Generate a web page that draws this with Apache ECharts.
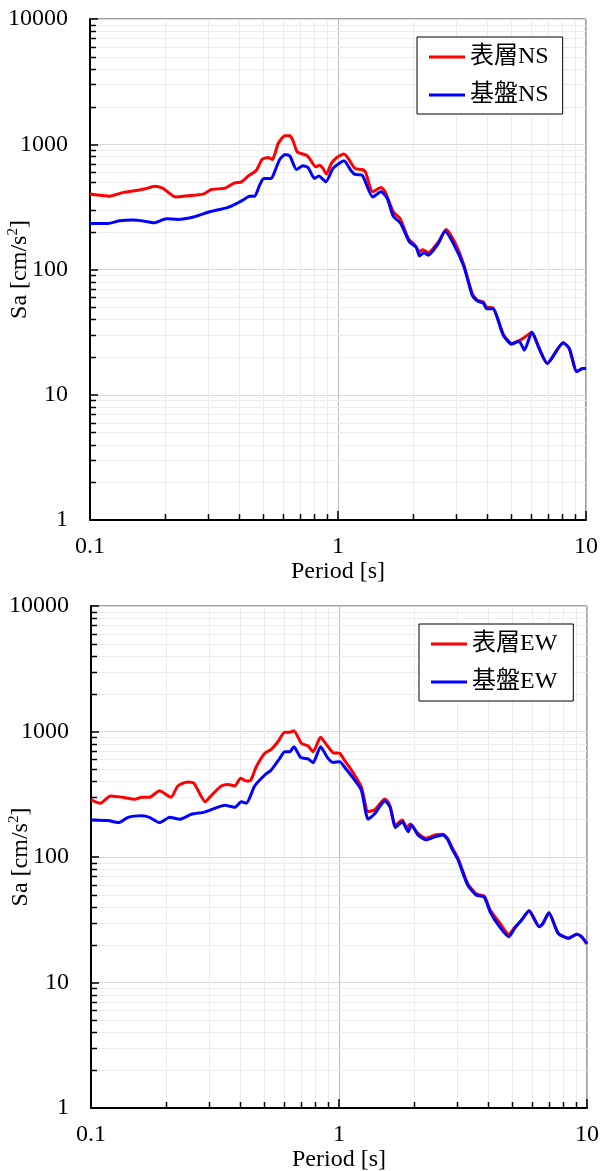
<!DOCTYPE html>
<html>
<head>
<meta charset="utf-8">
<script src="https://cdn.jsdelivr.net/npm/echarts@6/dist/echarts.min.js"></script>
<style>
html,body{margin:0;padding:0;background:#fff;}
#chart{width:601px;height:1171px;}
</style>
</head>
<body>
<div id="chart"></div>
<script>
// ---- Data (period [s], Sa [cm/s^2]) ----
const nsSurfaceT  = [0.100,0.110,0.120,0.134,0.151,0.169,0.182,0.197,0.221,0.248,0.286,0.309,0.350,0.383,0.408,0.434,0.469,0.494,0.523,0.544,0.574,0.611,0.640,0.659,0.685,0.745,0.768,0.813,0.843,0.870,0.898,0.940,0.990,1.057,1.100,1.170,1.250,1.290,1.380,1.490,1.550,1.670,1.780,1.920,2.040,2.130,2.200,2.310,2.540,2.730,2.970,3.220,3.480,3.650,3.850,3.980,4.210,4.640,5.010,5.370,5.640,6.050,6.470,6.980,8.090,8.560,9.180,9.690,10.00];
const nsSurfaceSa = [400,392,385,409,425,444,463,444,380,388,400,435,446,492,501,556,621,756,785,756,1015,1167,1167,1065,869,818,770,660,681,641,577,703,785,834,770,641,629,602,417,452,417,289,256,177,157,139,144,136,166,209,162,108,64,57,55,49.8,49.5,30.5,25.7,27.0,28.7,31.5,23.5,17.8,26.0,23.5,15.3,16.2,16.2];

const nsBaseT  = [0.100,0.118,0.132,0.149,0.166,0.181,0.203,0.226,0.264,0.304,0.360,0.395,0.414,0.440,0.461,0.483,0.502,0.538,0.555,0.582,0.613,0.640,0.680,0.722,0.757,0.804,0.838,0.893,0.954,1.010,1.057,1.130,1.170,1.250,1.380,1.490,1.580,1.670,1.790,1.940,2.070,2.130,2.220,2.310,2.540,2.700,2.940,3.220,3.480,3.650,3.850,3.980,4.210,4.640,5.010,5.370,5.640,6.050,6.470,6.980,8.090,8.560,9.180,9.690,10.00];
const nsBaseSa = [233,233,245,248,243,236,254,251,264,289,313,341,358,385,385,472,533,533,602,756,829,804,629,672,653,533,559,501,641,703,738,614,574,567,380,417,369,267,233,166,150,128,136,130,162,202,157,105,62,56,54,48.5,48.5,29.8,25.3,26.8,22.7,31.5,23.5,17.8,26.0,23.5,15.3,16.2,16.2];

const ewSurfaceT  = [0.100,0.109,0.120,0.137,0.150,0.160,0.172,0.189,0.210,0.224,0.245,0.260,0.289,0.307,0.335,0.357,0.380,0.401,0.423,0.441,0.464,0.502,0.533,0.567,0.604,0.633,0.658,0.705,0.751,0.786,0.843,0.883,0.946,1.007,1.050,1.110,1.230,1.310,1.390,1.530,1.590,1.690,1.800,1.870,1.940,2.080,2.240,2.440,2.620,2.740,2.870,3.020,3.300,3.580,3.850,4.070,4.460,4.840,5.110,5.450,5.840,6.420,6.650,7.020,7.650,8.420,9.090,9.540,10.00];
const ewSurfaceSa = [285,268,306,297,288,299,299,337,299,368,396,387,276,312,368,379,368,424,403,410,524,670,721,829,986,986,1015,805,766,690,899,805,678,670,593,509,363,230,237,290,268,180,197,172,183,154,141,150,152,141,117,97.7,61.7,50.7,48.9,37.8,29.6,24.2,27.5,31.5,37.3,27.8,29.6,36.0,24.7,22.5,24.2,23.0,20.3];

const ewBaseT  = [0.100,0.117,0.129,0.141,0.160,0.172,0.189,0.208,0.228,0.254,0.287,0.315,0.346,0.380,0.404,0.423,0.457,0.502,0.533,0.577,0.604,0.633,0.658,0.700,0.751,0.786,0.843,0.897,0.946,1.007,1.050,1.130,1.230,1.310,1.390,1.530,1.610,1.690,1.800,1.900,1.960,2.080,2.240,2.440,2.620,2.740,2.870,3.020,3.300,3.580,3.850,4.070,4.460,4.840,5.110,5.450,5.840,6.420,6.650,7.020,7.650,8.420,9.090,9.540,10.00];
const ewBaseSa = [197,195,188,207,213,207,188,207,200,219,228,244,259,249,276,268,368,450,493,611,690,690,757,622,604,564,757,622,567,574,524,436,342,200,220,279,249,172,191,159,180,150,137,145,150,138,114,95,60,49.5,48,36.5,27.5,23.2,27.0,31.5,37.3,27.8,29.6,36.0,24.7,22.5,24.2,23.0,20.3];

const seriesNames = ['表層NS','基盤NS','表層EW','基盤EW'];
const xTickLabels = ['0.1','1','10'];
const yTickLabels = ['1','10','100','1000','10000'];
const xMinor = [0.2,0.3,0.4,0.5,0.6,0.7,0.8,0.9,2,3,4,5,6,7,8,9];
const yMinor = [2,3,4,5,6,7,8,9,20,30,40,50,60,70,80,90,200,300,400,500,600,700,800,900,2000,3000,4000,5000,6000,7000,8000,9000];

// ---- helpers ----
const SERIF = '"Liberation Serif", "Times New Roman", serif';
const CJK = '"Liberation Serif", "Noto Sans CJK JP", serif';
function pairs(t, s){ return t.map((v,i)=>[v, s[i]]); }
function decadeLabel(list, base){
  return function(v){ const k = Math.round(Math.log10(v)) - base; return list[k] !== undefined ? list[k] : ''; };
}

function xAxisDef(gi){
  return {
    type:'log', logBase:10, gridIndex:gi, min:0.1, max:10,
    name:'Period [s]', nameLocation:'middle', nameGap:40,
    nameTextStyle:{fontFamily:SERIF, fontSize:24, color:'#000'},
    axisLine:{show:true, onZero:false, lineStyle:{color:'#000', width:2}},
    axisTick:{show:true, inside:true, length:9, lineStyle:{color:'#000', width:1.5}},
    axisLabel:{fontFamily:SERIF, fontSize:24, color:'#000', margin:15, formatter:decadeLabel(xTickLabels,-1)},
    splitLine:{show:true, lineStyle:{color:'#bdbdbd', width:1}},
    minorTick:{show:false}
  };
}
function yAxisDef(gi){
  return {
    type:'log', logBase:10, gridIndex:gi, min:1, max:10000,
    name:'{a|Sa [cm/s}{b|2}{a|]}', nameLocation:'middle', nameGap:58, nameRotate:90,
    nameMoveOverlap:false,
    nameTextStyle:{color:'#000', rich:{
      a:{fontFamily:SERIF, fontSize:24, color:'#000', lineHeight:26, verticalAlign:'bottom'},
      b:{fontFamily:SERIF, fontSize:15, color:'#000', lineHeight:26, verticalAlign:'top'}
    }},
    axisLine:{show:true, onZero:false, lineStyle:{color:'#000', width:2}},
    axisTick:{show:true, inside:true, length:8, lineStyle:{color:'#000', width:1.5}},
    axisLabel:{fontFamily:SERIF, fontSize:24, color:'#000', margin:22, formatter:decadeLabel(yTickLabels,0)},
    splitLine:{show:true, lineStyle:{color:'#d9d9d9', width:1}}
  };
}
function minorX(gi){
  return {
    type:'custom', xAxisIndex:gi, yAxisIndex:gi, silent:true, z:1,
    data: xMinor.map(v=>[v,1]),
    renderItem:function(params, api){
      const v = api.value(0);
      const a = api.coord([v,1]), b = api.coord([v,10000]);
      const x = Math.round(a[0]) + 0.5;
      return {type:'group', children:[
        {type:'line', shape:{x1:x,y1:a[1],x2:x,y2:b[1]}, style:{stroke:'#ececec', lineWidth:1}},
        {type:'line', shape:{x1:x,y1:a[1],x2:x,y2:a[1]-6}, style:{stroke:'#000', lineWidth:1.5}}
      ]};
    }
  };
}
function minorY(gi){
  return {
    type:'custom', xAxisIndex:gi, yAxisIndex:gi, silent:true, z:1,
    data: yMinor.map(v=>[0.1,v]),
    renderItem:function(params, api){
      const v = api.value(1);
      const a = api.coord([0.1,v]), b = api.coord([10,v]);
      const y = Math.round(a[1]) + 0.5;
      return {type:'group', children:[
        {type:'line', shape:{x1:a[0],y1:y,x2:b[0],y2:y}, style:{stroke:'#ececec', lineWidth:1}},
        {type:'line', shape:{x1:a[0],y1:y,x2:a[0]+6,y2:y}, style:{stroke:'#000', lineWidth:1.5}}
      ]};
    }
  };
}
function lineSeries(name, gi, data, color){
  return {
    type:'line', name:name, xAxisIndex:gi, yAxisIndex:gi, data:data,
    showSymbol:false, symbol:'none', smooth:0.2, z:3,
    lineStyle:{color:color, width:3}, itemStyle:{color:color},
    emphasis:{disabled:true}, animation:false
  };
}
function legendDef(names, left, top, padding){
  return {
    data:names, orient:'vertical', left:left, top:top, padding:padding,
    icon:'rect', itemWidth:36, itemHeight:3, itemGap:14,
    backgroundColor:'#fff', borderColor:'#000', borderWidth:1, borderRadius:0,
    textStyle:{fontFamily:CJK, fontSize:24, color:'#000', lineHeight:24, padding:[0,0,0,0]},
    selectedMode:false
  };
}

const chart = echarts.init(document.getElementById('chart'), null, {renderer:'canvas'});
chart.setOption({
  animation:false,
  backgroundColor:'#fff',
  grid:[
    {left:90, top:19, width:496, height:501, show:true, borderColor:'#404040', borderWidth:1, backgroundColor:'transparent', containLabel:false, outerBoundsMode:'none'},
    {left:91, top:606, width:496, height:502, show:true, borderColor:'#404040', borderWidth:1, backgroundColor:'transparent', containLabel:false, outerBoundsMode:'none'}
  ],
  xAxis:[xAxisDef(0), xAxisDef(1)],
  yAxis:[yAxisDef(0), yAxisDef(1)],
  legend:[
    legendDef([seriesNames[0], seriesNames[1]], 417, 37, [8,14,7,12]),
    legendDef([seriesNames[2], seriesNames[3]], 419, 624, [8,16,7,12])
  ],
  series:[
    minorX(0), minorY(0), minorX(1), minorY(1),
    lineSeries(seriesNames[0], 0, pairs(nsSurfaceT, nsSurfaceSa), '#ff0000'),
    lineSeries(seriesNames[1], 0, pairs(nsBaseT, nsBaseSa), '#0000ff'),
    lineSeries(seriesNames[2], 1, pairs(ewSurfaceT, ewSurfaceSa), '#ff0000'),
    lineSeries(seriesNames[3], 1, pairs(ewBaseT, ewBaseSa), '#0000ff')
  ]
});
</script>
</body>
</html>
